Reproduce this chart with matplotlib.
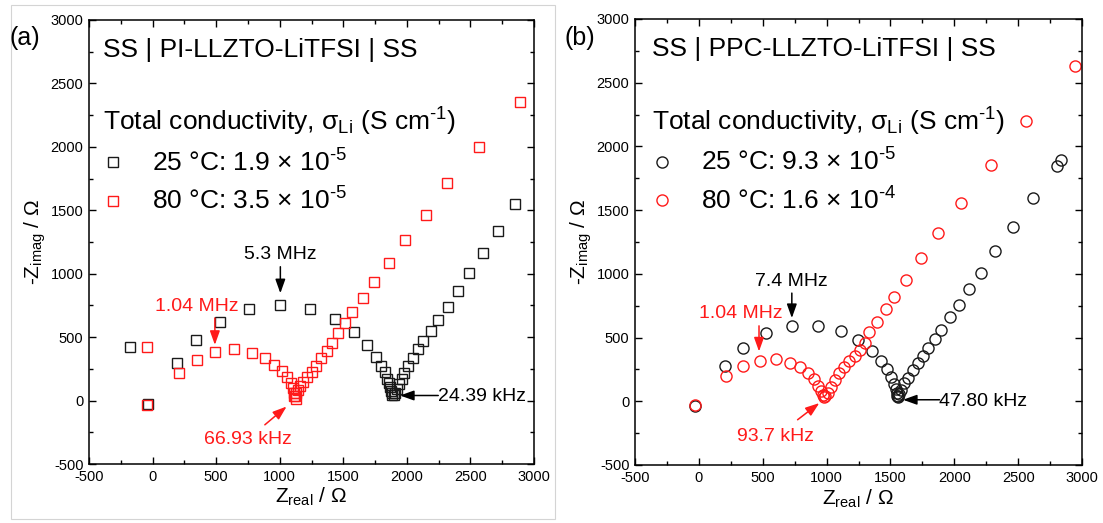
import matplotlib.pyplot as plt
from matplotlib.patches import Rectangle
from matplotlib.ticker import MultipleLocator

plt.rcParams['font.family'] = ['Liberation Sans', 'DejaVu Sans']
plt.rcParams['mathtext.fontset'] = 'custom'
plt.rcParams['mathtext.rm'] = 'Liberation Sans'
plt.rcParams['mathtext.it'] = 'Liberation Sans:italic'
plt.rcParams['mathtext.bf'] = 'Liberation Sans:bold'
plt.rcParams['axes.unicode_minus'] = False

# (a) SS | PI-LLZTO-LiTFSI | SS
a25_zre = [-180, -35, 195, 340, 530, 760, 1005, 1235, 1435, 1585, 1685, 1757,
           1796, 1828, 1846, 1859, 1867, 1875, 1880, 1885,
           1895, 1906, 1920, 1938, 1959, 1980, 2011, 2050, 2090, 2129, 2190,
           2247, 2321, 2400, 2489, 2601, 2719, 2851]
a25_zim = [421, -30, 300, 477, 622, 720, 753, 722, 641, 543, 439, 344,
           273, 223, 171, 137, 105, 79, 58, 42,
           45, 58, 90, 129, 171, 221, 273, 334, 404, 470, 549,
           635, 740, 864, 1003, 1160, 1336, 1547]
a80_zre = [-47, -42, 207, 346, 490, 640, 781, 884, 957, 1020, 1059, 1086, 1101,
           1112, 1120, 1125,
           1112, 1125, 1141, 1159, 1185, 1212, 1251, 1285, 1324, 1369, 1408,
           1460, 1513, 1571, 1657, 1744, 1857, 1985, 2150, 2316, 2569, 2891]
a80_zim = [423, -34, 216, 318, 381, 405, 376, 334, 281, 234, 184, 137, 98,
           63, 37, 13,
           37, 58, 84, 116, 150, 189, 228, 273, 334, 394, 457,
           531, 609, 701, 806, 937, 1087, 1265, 1461, 1713, 1996, 2352]

# (b) SS | PPC-LLZTO-LiTFSI | SS
b25_zre = [-31, 204, 349, 529, 728, 935, 1113, 1244, 1355, 1425, 1474, 1503,
           1525, 1540, 1548, 1553, 1558,
           1562, 1570, 1584, 1610, 1636, 1676, 1715, 1755, 1794, 1846, 1898,
           1963, 2037, 2112, 2207, 2317, 2456, 2619, 2802, 2834]
b25_zim = [-35, 273, 417, 535, 587, 592, 553, 482, 393, 320, 250, 190,
           135, 95, 65, 45, 35,
           40, 60, 90, 143, 182, 247, 300, 352, 417, 487, 560,
           665, 757, 880, 1007, 1180, 1371, 1599, 1849, 1893]
b80_zre = [-31, 215, 346, 477, 603, 715, 793, 856, 903, 935, 956, 970, 977,
           990, 1009, 1035, 1066, 1100, 1140, 1179, 1224, 1265, 1297, 1336,
           1397, 1467, 1527, 1625, 1742, 1872, 2050, 2286, 2563, 2946]
b80_zim = [-27, 195, 273, 320, 331, 304, 268, 221, 174, 122, 77, 50, 33,
           40, 64, 116, 169, 221, 268, 313, 358, 404, 456, 540,
           626, 723, 822, 955, 1127, 1319, 1554, 1855, 2202, 2634]

W, H = 1103, 523
fig = plt.figure(figsize=(W / 100, H / 100), dpi=100)
fig.patches.append(Rectangle((11 / W, 1 - 519 / H), 544 / W, 514 / H,
                             transform=fig.transFigure, fill=False,
                             ec='#d4d4d4', lw=0.8))

ax_a = fig.add_axes([89 / W, 1 - 464 / H, 445 / W, 444 / H])
ax_b = fig.add_axes([635 / W, 1 - 465 / H, 447 / W, 446 / H])

BLK = '#1a1a1a'
RED = '#ff1a1a'
HY = '\u2010'
COND = r'Total conductivity, σ$_{\mathrm{Li}}$ (S cm$^{' + HY + '1}$)'


def style(ax):
    ax.set_xlim(-500, 3000)
    ax.set_ylim(-500, 3000)
    ax.xaxis.set_major_locator(MultipleLocator(500))
    ax.yaxis.set_major_locator(MultipleLocator(500))
    ax.xaxis.set_minor_locator(MultipleLocator(250))
    ax.yaxis.set_minor_locator(MultipleLocator(250))
    ax.tick_params(which='both', direction='in', top=True, right=True,
                   width=1, labelsize=10.5, pad=4)
    ax.tick_params(which='major', length=5)
    ax.tick_params(which='minor', length=3)
    for s in ax.spines.values():
        s.set_linewidth(1.1)
    ax.set_xlabel(r'Z$_{\mathrm{real}}$ / Ω', fontsize=15)
    ax.set_ylabel(r'-Z$_{\mathrm{imag}}$ / Ω', fontsize=15)
    ax.xaxis.set_label_coords(0.5, -0.05)
    ax.yaxis.set_label_coords(-0.092, 0.5)


def arrow(ax, tail, head, color):
    ax.annotate('', xy=head, xytext=tail,
                arrowprops=dict(arrowstyle='-|>,head_length=0.7,head_width=0.25',
                                color=color, lw=1.1,
                                mutation_scale=12, shrinkA=0, shrinkB=0))


def legend(ax, handles, labels, x):
    ax.legend(handles, labels, loc='upper left', bbox_to_anchor=(x, 0.806),
              frameon=False, fontsize=19, title=COND, title_fontsize=19,
              alignment='left', handlelength=0.75, handletextpad=1.1,
              borderpad=0, borderaxespad=0, labelspacing=0.42)


# panel (a)
style(ax_a)
h1, = ax_a.plot(a25_zre, a25_zim, 's', mfc='none', mec=BLK, ms=7.5, mew=1.0)
h2, = ax_a.plot(a80_zre, a80_zim, 's', mfc='none', mec=RED, ms=7.5, mew=1.0)
ax_a.text(0.0315, 0.917, 'SS | PI-LLZTO-LiTFSI | SS', transform=ax_a.transAxes,
          fontsize=19, va='baseline')
legend(ax_a, [h1, h2], ['25 °C: 1.9 × 10$^{' + HY + '5}$',
                        '80 °C: 3.5 × 10$^{' + HY + '5}$'], 0.0315)

ax_a.text(1002, 1155, '5.3 MHz', fontsize=14, ha='center', va='center', color='black')
arrow(ax_a, (1005, 1055), (1005, 846), 'black')
ax_a.text(346, 740, '1.04 MHz', fontsize=14, ha='center', va='center', color=RED)
arrow(ax_a, (490, 651), (490, 439), RED)
ax_a.text(752, -309, '66.93 kHz', fontsize=14, ha='center', va='center', color=RED)
arrow(ax_a, (883, -191), (1054, -47), RED)
ax_a.text(2589, 31, '24.39 kHz', fontsize=14, ha='center', va='center', color='black')
arrow(ax_a, (2247, 40), (1946, 40), 'black')

# panel (b)
style(ax_b)
g1, = ax_b.plot(b25_zre, b25_zim, 'o', mfc='none', mec=BLK, ms=8, mew=1.0)
g2, = ax_b.plot(b80_zre, b80_zim, 'o', mfc='none', mec=RED, ms=8, mew=1.0)
ax_b.text(0.038, 0.917, 'SS | PPC-LLZTO-LiTFSI | SS', transform=ax_b.transAxes,
          fontsize=19, va='baseline')
legend(ax_b, [g1, g2], ['25 °C: 9.3 × 10$^{' + HY + '5}$',
                        '80 °C: 1.6 × 10$^{' + HY + '4}$'], 0.038)

ax_b.text(728, 940, '7.4 MHz', fontsize=14, ha='center', va='center', color='black')
arrow(ax_b, (728, 849), (728, 653), 'black')
ax_b.text(328, 692, '1.04 MHz', fontsize=14, ha='center', va='center', color=RED)
arrow(ax_b, (471, 592), (471, 391), RED)
ax_b.text(603, -276, '93.7 kHz', fontsize=14, ha='center', va='center', color=RED)
arrow(ax_b, (773, -145), (943, -14), RED)
ax_b.text(2226, 0, '47.80 kHz', fontsize=14, ha='center', va='center', color='black')
arrow(ax_b, (1885, 12), (1598, 12), 'black')

fig.text(25 / W, 1 - 38 / H, '(a)', fontsize=18, ha='center', va='center')
fig.text(580 / W, 1 - 38 / H, '(b)', fontsize=18, ha='center', va='center')

fig.savefig('out.png', dpi=100)
